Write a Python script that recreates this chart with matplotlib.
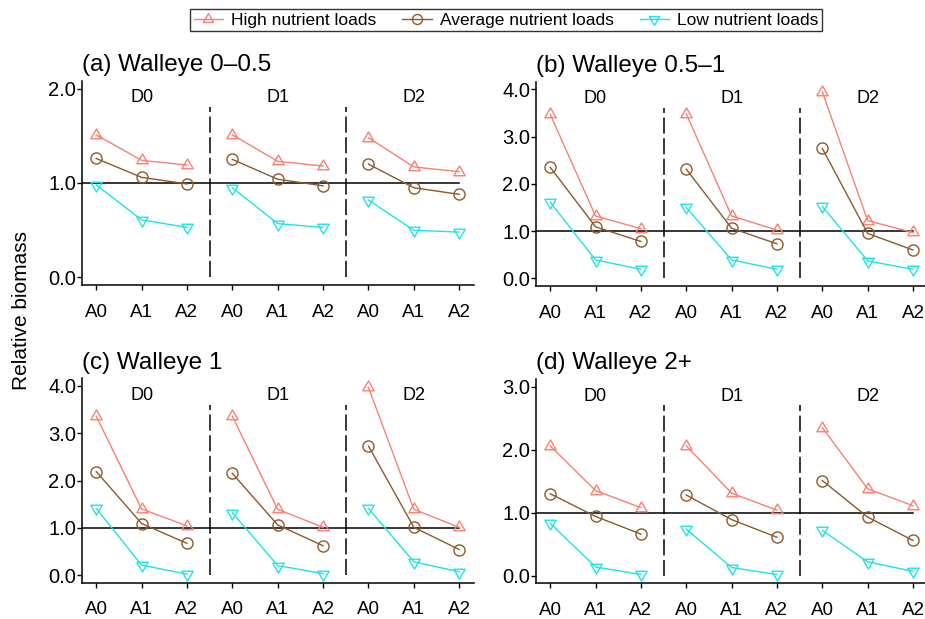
import numpy as np
import matplotlib
matplotlib.use("Agg")
import matplotlib.pyplot as plt
from matplotlib.path import Path
from matplotlib.lines import Line2D

plt.rcParams['font.family'] = ['Liberation Sans', 'DejaVu Sans']

# Treatment layout: three A-levels within each of three D-groups
groups = ["D0", "D1", "D2"]
a_levels = ["A0", "A1", "A2"]
tick_labels = a_levels * 3
series_names = ["High nutrient loads", "Average nutrient loads", "Low nutrient loads"]

panel_titles = ["(a) Walleye 0\u20130.5", "(b) Walleye 0.5\u20131",
                "(c) Walleye 1", "(d) Walleye 2+"]
panel_ymax = [2.0, 4.0, 4.0, 3.0]

# Relative biomass, ordered D0(A0,A1,A2), D1(A0,A1,A2), D2(A0,A1,A2)
walleye_0_05_high = [1.51, 1.24, 1.19, 1.51, 1.23, 1.18, 1.48, 1.17, 1.12]
walleye_0_05_avg  = [1.26, 1.06, 0.99, 1.25, 1.04, 0.97, 1.20, 0.95, 0.88]
walleye_0_05_low  = [0.98, 0.61, 0.53, 0.95, 0.57, 0.53, 0.82, 0.50, 0.48]

walleye_05_1_high = [3.47, 1.32, 1.05, 3.48, 1.32, 1.02, 3.95, 1.22, 0.97]
walleye_05_1_avg  = [2.35, 1.09, 0.78, 2.31, 1.06, 0.73, 2.75, 0.95, 0.60]
walleye_05_1_low  = [1.61, 0.39, 0.19, 1.50, 0.39, 0.19, 1.52, 0.37, 0.19]

walleye_1_high = [3.36, 1.40, 1.04, 3.36, 1.39, 1.01, 3.97, 1.39, 1.01]
walleye_1_avg  = [2.19, 1.09, 0.67, 2.15, 1.06, 0.62, 2.73, 1.01, 0.54]
walleye_1_low  = [1.41, 0.21, 0.02, 1.32, 0.20, 0.03, 1.41, 0.28, 0.07]

walleye_2_high = [2.06, 1.35, 1.08, 2.06, 1.31, 1.04, 2.35, 1.38, 1.11]
walleye_2_avg  = [1.30, 0.94, 0.66, 1.28, 0.89, 0.61, 1.51, 0.93, 0.56]
walleye_2_low  = [0.83, 0.14, 0.02, 0.74, 0.13, 0.02, 0.72, 0.22, 0.07]

panel_data = [
    (walleye_0_05_high, walleye_0_05_avg, walleye_0_05_low),
    (walleye_05_1_high, walleye_05_1_avg, walleye_05_1_low),
    (walleye_1_high, walleye_1_avg, walleye_1_low),
    (walleye_2_high, walleye_2_avg, walleye_2_low),
]

colors = ["#FA8072", "#8B5A2B", "#1EE3E8"]

# Open triangles centred on their centroid (apex up / apex down)
tri_up = Path([(0, 1), (0.866, -0.5), (-0.866, -0.5), (0, 1)],
              [Path.MOVETO, Path.LINETO, Path.LINETO, Path.CLOSEPOLY])
tri_down = Path([(0, -1), (0.866, 0.5), (-0.866, 0.5), (0, -1)],
                [Path.MOVETO, Path.LINETO, Path.LINETO, Path.CLOSEPOLY])
markers = [tri_up, "o", tri_down]
msizes = [9.4, 8.0, 9.4]

W, H = 925, 619
fig = plt.figure(figsize=(W / 100, H / 100), dpi=100)

# panel boxes in pixels: left, top, right, bottom
boxes = [
    (81.7, 81.0, 473.7, 285.0),
    (535.7, 81.7, 927.5, 285.9),
    (81.7, 378.4, 473.7, 582.6),
    (535.7, 379.0, 927.5, 583.3),
]

x = np.arange(1, 10)

for k, (l, t, r, b) in enumerate(boxes):
    ax = fig.add_axes([l / W, 1 - b / H, (r - l) / W, (b - t) / H])
    ymax = panel_ymax[k]
    ax.set_xlim(0.68, 9.32)
    ax.set_ylim(-0.04 * ymax, 1.04 * ymax)
    for s in ("top", "right"):
        ax.spines[s].set_visible(False)
    for s in ("left", "bottom"):
        ax.spines[s].set_linewidth(1.1)
    ax.set_xticks(x)
    ax.set_xticklabels(tick_labels)
    yt = np.arange(0, ymax + 0.01, 1.0)
    ax.set_yticks(yt)
    ax.set_yticklabels([f"{v:.1f}" for v in yt])
    ax.tick_params(axis="both", direction="out", length=3.6, width=1.0,
                   labelsize=13.5, colors="black")
    ax.tick_params(axis="y", labelsize=14.5, pad=0.5)
    ax.tick_params(axis="x", pad=10)

    # reference line at relative biomass of 1
    ax.plot([0.68, 9.0], [1, 1], color="black", lw=1.1, zorder=2)
    # separators between D-groups
    for xv in (3.5, 6.5):
        ax.plot([xv, xv], [0, 0.9 * ymax], color="black", lw=1.1,
                dashes=(10.5, 3.0), zorder=2)
    for g, name in enumerate(groups):
        ax.text(3 * g + 2, 0.95 * ymax, name, ha="center", va="center",
                fontsize=13)

    for s, vals in enumerate(panel_data[k]):
        vals = np.asarray(vals)
        for g in range(3):
            sl = slice(3 * g, 3 * g + 3)
            ax.plot(x[sl], vals[sl], color=colors[s], lw=1.0,
                    marker=markers[s], ms=msizes[s], mfc="none",
                    mec=colors[s], mew=1.0, clip_on=False, zorder=3)

    ax.set_title(panel_titles[k], loc="left", fontsize=17.5, pad=7.0)

fig.text(22 / W, 1 - 310 / H, "Relative biomass", rotation=90,
         ha="center", va="center", fontsize=15)

handles = [Line2D([], [], color=colors[i], lw=1.0, marker=markers[i],
                  ms=msizes[i] * 0.9, mfc="none", mec=colors[i], mew=1.0)
           for i in range(3)]
leg = fig.legend(handles, series_names, loc="center", ncol=3,
                 bbox_to_anchor=(506 / W, 1 - 20 / H), fontsize=12.5,
                 frameon=True, fancybox=False, edgecolor="black",
                 handlelength=1.7, handletextpad=0.45, columnspacing=1.5,
                 borderpad=0.2, borderaxespad=0)
leg.get_frame().set_linewidth(1.0)

fig.savefig("out.png", dpi=100)
